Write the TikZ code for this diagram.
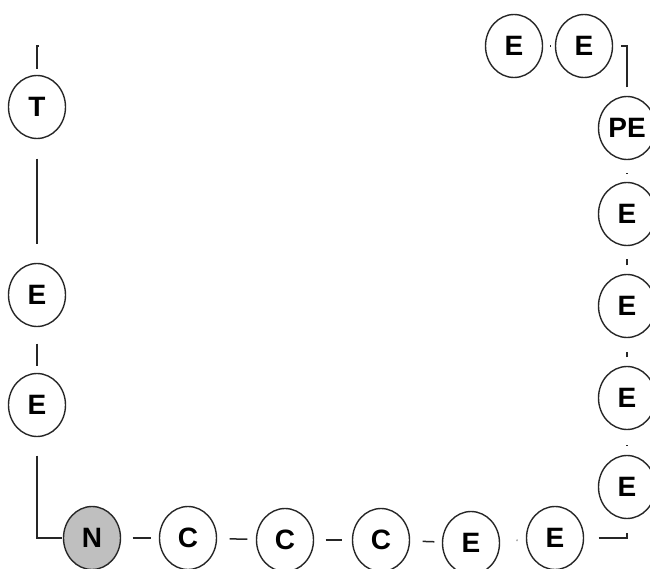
\documentclass[tikz,border=0pt]{standalone}
\usepackage{fontspec}
\setmainfont{Liberation Sans}
\usetikzlibrary{shapes.geometric}

\tikzset{
  unit/.style={ellipse, draw=black!85, line width=1.4pt, fill=white,
    minimum width=57pt, minimum height=63pt, inner sep=0pt,
    font=\fontsize{28}{28}\selectfont\bfseries},
  seed/.style={unit, fill=black!25},
  link/.style={draw=black!85, line width=1.5pt},
}

\begin{document}
\begin{tikzpicture}[x=1pt, y=-1pt]

  \useasboundingbox (0,0) rectangle (650,569);
  \clip (0,0) rectangle (650,569);

  % --- 1. 左の列 ---
  \coordinate (top) at (39,46);
  \node[unit] (T)  at (37,107) {T};
  \node[unit] (E1) at (37,295) {E};
  \node[unit] (E2) at (37,405) {E};

  % --- 2. 下の列 ---
  \node[seed] (N)  at (92,538)  {N};
  \node[unit] (C1) at (188,538) {C};
  \node[unit] (C2) at (285,540) {C};
  \node[unit] (C3) at (381,540) {C};
  \node[unit] (E3) at (471,543) {E};
  \node[unit] (E4) at (555,538) {E};

  % --- 3. 右の列と上の段 ---
  \node[unit] (E5)  at (627,487) {E};
  \node[unit] (E6)  at (627,398) {E};
  \node[unit] (E7)  at (627,306) {E};
  \node[unit] (E8)  at (627,214) {E};
  \node[unit] (PE)  at (627,128) {PE};
  \node[unit] (E9)  at (584,46)  {E};
  \node[unit] (E10) at (514,46)  {E};

  % 結合 (左)
  \draw[link, shorten >=5.5pt] (top) -| (T);
  \draw[link, shorten <=19.5pt, shorten >=18.5pt] (T) -- (E1);
  \draw[link, shorten <=16.5pt, shorten >=6.5pt] (E1) -- (E2);
  \draw[link, shorten <=18.5pt, shorten >=1pt] (E2) |- (N);

  % 結合 (下)
  \draw[link, shorten <=11.5pt, shorten >=7.5pt] (N) -- (C1);
  \draw[link, shorten <=12.5pt, shorten >=8.5pt] (C1) -- (C2);
  \draw[link, shorten <=11.5pt, shorten >=9.5pt] (C2) -- (C3);
  \draw[link, shorten <=12.5pt, shorten >=7.5pt] (C3) -- (E3);
  \draw[link, shorten <=16.5pt, shorten >=8.5pt] (E3) -- (E4);

  % 結合 (右と上)
  \draw[link, shorten <=14.5pt, shorten >=13.5pt] (E4) -| (E5);
  \draw[link, shorten <=9.5pt, shorten >=14.5pt] (E5) -- (E6);
  \draw[link, shorten <=8.5pt, shorten >=13.5pt] (E6) -- (E7);
  \draw[link, shorten <=8.5pt, shorten >=12.5pt] (E7) -- (E8);
  \draw[link, shorten <=8.5pt, shorten >=12.5pt] (E8) -- (PE);
  \draw[link, shorten <=8.5pt, shorten >=7.5pt] (PE) |- (E9);
  \draw[link, shorten <=4.5pt, shorten >=6.5pt] (E9) -- (E10);

\end{tikzpicture}
\end{document}
